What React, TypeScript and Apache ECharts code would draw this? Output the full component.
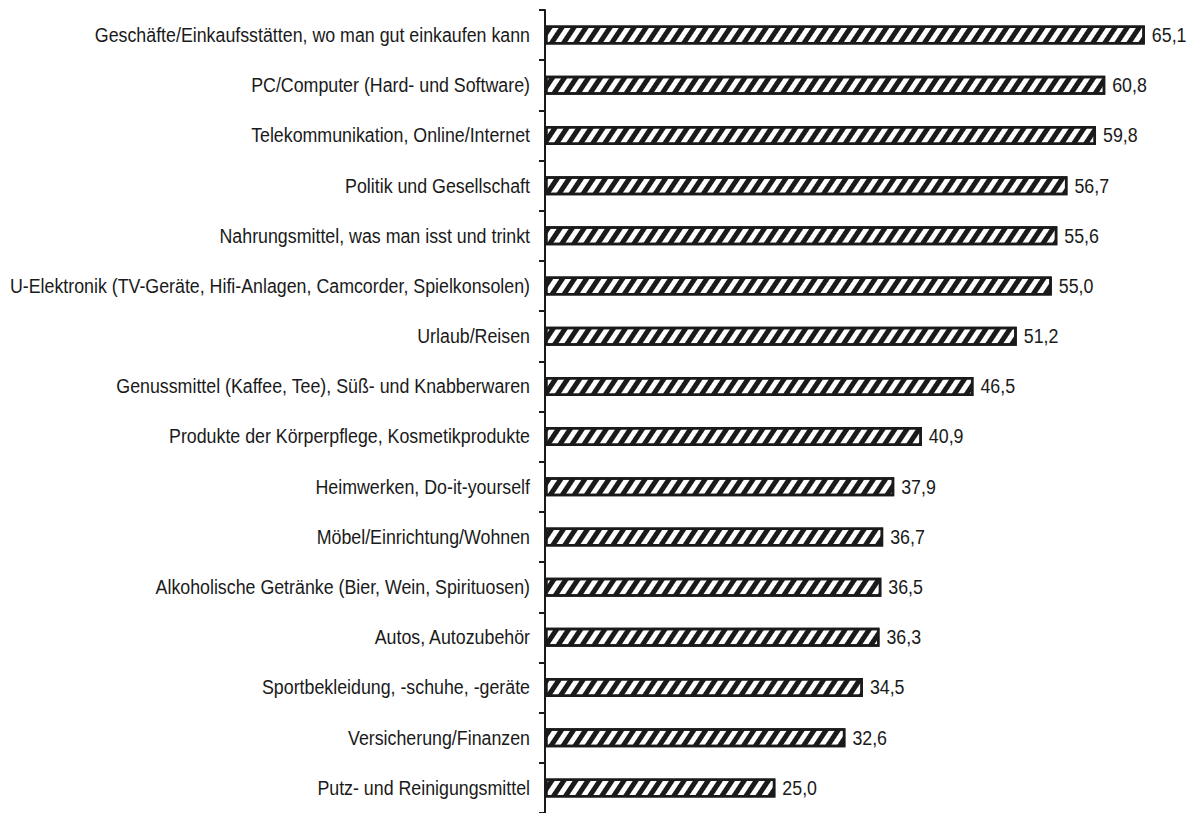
import React, { useEffect, useRef } from "react";
import * as echarts from "echarts";

// Interest topics, top to bottom
const categories: string[] = [
  "Geschäfte/Einkaufsstätten, wo man gut einkaufen kann",
  "PC/Computer (Hard- und Software)",
  "Telekommunikation, Online/Internet",
  "Politik und Gesellschaft",
  "Nahrungsmittel, was man isst und trinkt",
  "U-Elektronik (TV-Geräte, Hifi-Anlagen, Camcorder, Spielkonsolen)",
  "Urlaub/Reisen",
  "Genussmittel (Kaffee, Tee), Süß- und Knabberwaren",
  "Produkte der Körperpflege, Kosmetikprodukte",
  "Heimwerken, Do-it-yourself",
  "Möbel/Einrichtung/Wohnen",
  "Alkoholische Getränke (Bier, Wein, Spirituosen)",
  "Autos, Autozubehör",
  "Sportbekleidung, -schuhe, -geräte",
  "Versicherung/Finanzen",
  "Putz- und Reinigungsmittel",
];

// Share in percent
const values: number[] = [
  65.1, 60.8, 59.8, 56.7, 55.6, 55.0, 51.2, 46.5, 40.9, 37.9, 36.7, 36.5, 36.3,
  34.5, 32.6, 25.0,
];

const FONT = '"Liberation Sans", Arial, sans-serif';
const INK = "#1a1a1a";
const FONT_SIZE = 20;
// narrow the regular sans face horizontally
const NARROW = 0.89;

const fmt = (v: number) => v.toFixed(1).replace(".", ",");

export default function App() {
  const ref = useRef<HTMLDivElement>(null);

  useEffect(() => {
    if (!ref.current) return;
    const chart = echarts.init(ref.current, undefined, { renderer: "svg" });
    chart.setOption({
      animation: false,
      backgroundColor: "#ffffff",
      grid: {
        left: 545,
        right: 12,
        top: 10,
        bottom: 0,
        containLabel: false,
        outerBoundsMode: "none",
      },
      xAxis: {
        type: "value",
        min: 0,
        max: 70,
        show: false,
      },
      yAxis: {
        type: "category",
        inverse: true,
        data: categories,
        axisLine: { show: true, lineStyle: { color: INK, width: 2 } },
        axisTick: {
          show: true,
          inside: false,
          length: 6,
          lineStyle: { color: INK, width: 2 },
        },
        axisLabel: { show: false },
        splitLine: { show: false },
      },
      series: [
        {
          type: "bar",
          data: values,
          barWidth: 19,
          itemStyle: {
            color: "#ffffff",
            borderColor: INK,
            borderWidth: 2.5,
            decal: {
              symbol: "rect",
              symbolSize: 1,
              color: INK,
              backgroundColor: "#ffffff",
              dashArrayX: [1, 0],
              dashArrayY: [5, 5],
              rotation: -Math.PI / 3.2,
            },
          },
        },
      ],
    });

    // Category names and value labels, set in a horizontally narrowed face
    const graphics: any[] = [];
    const axisX = chart.convertToPixel({ xAxisIndex: 0 }, 0) as number;
    categories.forEach((name, i) => {
      const y = chart.convertToPixel({ yAxisIndex: 0 }, i) as number;
      graphics.push({
        type: "text",
        x: axisX - 15,
        y,
        scaleX: NARROW,
        silent: true,
        style: {
          text: name,
          fill: INK,
          font: `${FONT_SIZE}px ${FONT}`,
          align: "right",
          verticalAlign: "middle",
        },
      });
      const xEnd = chart.convertToPixel({ xAxisIndex: 0 }, values[i]) as number;
      graphics.push({
        type: "text",
        x: xEnd + 7,
        y,
        scaleX: NARROW,
        silent: true,
        style: {
          text: fmt(values[i]),
          fill: INK,
          font: `${FONT_SIZE}px ${FONT}`,
          align: "left",
          verticalAlign: "middle",
        },
      });
    });
    chart.setOption({ graphic: graphics });

    return () => chart.dispose();
  }, []);

  return (
    <div
      ref={ref}
      style={{ position: "fixed", left: 0, top: 0, width: 1202, height: 813 }}
    />
  );
}
